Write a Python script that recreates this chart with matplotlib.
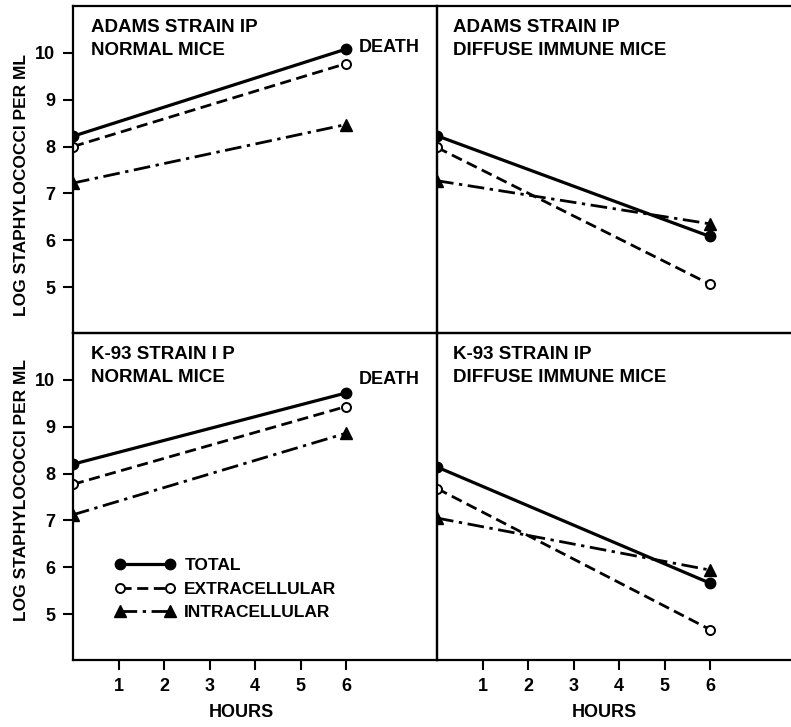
import matplotlib
matplotlib.use('Agg')
import matplotlib.pyplot as plt

plt.rcParams['font.family'] = ['Liberation Sans', 'DejaVu Sans']
plt.rcParams['font.weight'] = 'bold'
plt.rcParams['axes.labelweight'] = 'bold'

hours = [0, 6]

# Adams strain, normal mice
adams_normal_total = [8.22, 10.08]
adams_normal_extra = [8.0, 9.77]
adams_normal_intra = [7.22, 8.47]

# Adams strain, diffuse immune mice
adams_immune_total = [8.23, 6.08]
adams_immune_extra = [7.98, 5.06]
adams_immune_intra = [7.27, 6.35]

# K-93 strain, normal mice
k93_normal_total = [8.2, 9.72]
k93_normal_extra = [7.77, 9.43]
k93_normal_intra = [7.12, 8.86]

# K-93 strain, diffuse immune mice
k93_immune_total = [8.14, 5.66]
k93_immune_extra = [7.68, 4.67]
k93_immune_intra = [7.05, 5.94]

panel_titles = ['ADAMS STRAIN IP\nNORMAL MICE', 'ADAMS STRAIN IP\nDIFFUSE IMMUNE MICE',
                'K-93 STRAIN I P\nNORMAL MICE', 'K-93 STRAIN IP\nDIFFUSE IMMUNE MICE']
y_ticks = [5, 6, 7, 8, 9, 10]
x_ticks = [1, 2, 3, 4, 5, 6]

series = [
    (adams_normal_total, adams_normal_extra, adams_normal_intra),
    (adams_immune_total, adams_immune_extra, adams_immune_intra),
    (k93_normal_total, k93_normal_extra, k93_normal_intra),
    (k93_immune_total, k93_immune_extra, k93_immune_intra),
]

W, H = 791, 727
fig = plt.figure(figsize=(W / 100, H / 100), dpi=100)

def px_axes(x0, y0, x1, y1):
    return fig.add_axes([x0 / W, 1 - y1 / H, (x1 - x0) / W, (y1 - y0) / H])

axes = [px_axes(73, 6, 437, 333), px_axes(437, 6, 791, 333),
        px_axes(73, 333, 437, 660), px_axes(437, 333, 791, 660)]

FS = 13.5
for i, ax in enumerate(axes):
    total, extra, intra = series[i]
    ax.plot(hours, total, color='black', lw=2.3, ls='-', marker='o', ms=7.5,
            label='TOTAL')
    ax.plot(hours, extra, color='black', lw=2.0, ls=(0, (4, 2)), marker='o', ms=6.5,
            mfc='white', mew=1.4, label='EXTRACELLULAR')
    ax.plot(hours, intra, color='black', lw=2.0, ls=(0, (6, 2, 1.2, 2)), marker='^', ms=8.5,
            label='INTRACELLULAR')
    right = i % 2 == 1
    ax.set_xlim(0, 7.78 if right else 8)
    ax.set_ylim(4.02, 11.0)
    for s in ax.spines.values():
        s.set_linewidth(1.6)
    if right:
        ax.spines['right'].set_visible(False)
        ax.set_yticks([])
    else:
        ax.set_yticks(y_ticks)
        ax.set_yticklabels([str(t) for t in y_ticks], fontsize=13)
        ax.set_ylabel('LOG STAPHYLOCOCCI PER ML', fontsize=12.5)
        ax.yaxis.set_label_coords(-0.122, 0.453 if i == 0 else 0.52)
    if i >= 2:
        ax.set_xticks(x_ticks)
        ax.set_xticklabels([str(t) for t in x_ticks], fontsize=13)
        ax.set_xlabel('HOURS', fontsize=13)
        ax.xaxis.set_label_coords(0.472 if right else 0.4615, -0.135)
    else:
        ax.set_xticks([])
    ax.tick_params(direction='out', length=7, width=1.5, pad=6)
    ax.text(0.05 if not right else 0.045, 0.96, panel_titles[i], transform=ax.transAxes,
            ha='left', va='top', fontsize=FS, linespacing=1.45)
    if not right:
        ax.text(6.27, total[1] + (0.04 if i == 0 else 0.28), 'DEATH', ha='left', va='center',
                fontsize=13)
    ax.patch.set_visible(False)

axes[2].legend(loc='center left', bbox_to_anchor=(0.115, 0.217), frameon=False, numpoints=2,
               handlelength=3.5, handletextpad=0.5, labelspacing=0.5, fontsize=12.5,
               borderaxespad=0, borderpad=0)

fig.savefig('out.png', dpi=100)
